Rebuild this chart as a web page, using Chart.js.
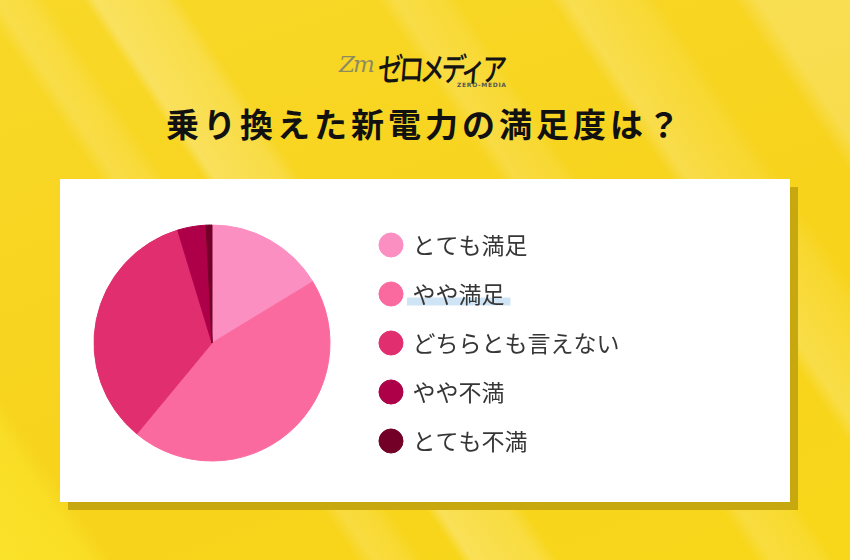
<!DOCTYPE html>
<html lang="ja">
<head>
<meta charset="utf-8">
<title>乗り換えた新電力の満足度は？</title>
<script src="https://cdn.jsdelivr.net/npm/chart.js@4.4.1/dist/chart.umd.min.js"></script>
<style>
  html, body { margin: 0; padding: 0; }
  body {
    width: 850px; height: 560px; overflow: hidden; position: relative;
    font-family: "Noto Sans CJK JP", "Noto Sans", sans-serif;
    background:
      linear-gradient(56deg,
        rgba(255,245,60,0.45) 0%, rgba(255,245,60,0.30) 7%, rgba(255,255,255,0) 9%,
        rgba(255,255,255,0) 29%,
        rgba(255,255,255,0.16) 30.5%, rgba(255,255,255,0.10) 33%, rgba(255,255,255,0) 34.5%,
        rgba(255,255,255,0) 37.5%,
        rgba(255,255,255,0.26) 38.5%, rgba(255,255,255,0.16) 44%, rgba(255,255,255,0) 45.5%,
        rgba(255,255,255,0) 61.5%,
        rgba(255,255,255,0.16) 63%, rgba(255,255,255,0.08) 67%, rgba(255,255,255,0) 68%,
        rgba(255,255,255,0) 75.5%,
        rgba(255,255,255,0.20) 77%, rgba(255,255,255,0.08) 83%, rgba(255,255,255,0) 84.5%,
        rgba(255,255,255,0) 90.5%,
        rgba(255,255,255,0.22) 92.5%, rgba(255,255,255,0.22) 100%),
      linear-gradient(160deg, #F8D828 0%, #F7D31C 55%, #F8D71A 100%);
  }
  .abs { position: absolute; white-space: nowrap; }
  #logoZ { left: 339px; top: 51px; font: italic 400 23px "DejaVu Serif", serif; color: #8d8a62; letter-spacing: -2px; }
  #logoJa { left: 380px; top: 44px; font-size: 27px; font-weight: 500; color: #141414; letter-spacing: -4px;
            transform-origin: left top; transform: scale(0.92, 1.2) skewX(-6deg); }
  #logoEn { left: 457px; top: 81px; font: 600 6px "DejaVu Sans", sans-serif; color: #555; letter-spacing: 0.7px; }
  #title { left: 7px; width: 836px; top: 107px; text-align: center; font-size: 33px; line-height: 33px;
           font-weight: 700; color: #111; letter-spacing: 4px; }
  #card { left: 60px; top: 179px; width: 730px; height: 323px; background: #fff;
          box-shadow: 8px 8px 0 #C7A90F; }
  #card canvas { display: block; }
</style>
</head>
<body>
<div class="abs" id="logoZ">Zm</div>
<div class="abs" id="logoJa">ゼロメディア</div>
<div class="abs" id="logoEn">ZERO-MEDIA</div>
<div class="abs" id="title">乗り換えた新電力の満足度は？</div>
<div class="abs" id="card"><canvas id="pie" width="730" height="323"></canvas></div>
<script>
// values (share of answers, %)
const labels = ['とても満足', 'やや満足', 'どちらとも言えない', 'やや不満', 'とても不満'];
const values = [16.3, 44.7, 34.3, 3.9, 0.8];
const colors = ['#FC8FC2', '#FB6A9E', '#E12E6F', '#AD0048', '#720027'];

const LEGEND_W = 300;
const LEGEND_PAD = 26;

// keep the legend box at a fixed width so the pie sits where it should
const legendWidth = {
    id: 'legendWidth',
    afterInit(chart) {
        const lg = chart.legend;
        const fit = lg.fit;
        lg.fit = function () {
            fit.call(this);
            this.width = LEGEND_W;
        };
    }
};

// light blue marker under the 2nd legend label (as in the source image)
const labelMark = {
    id: 'labelMark',
    beforeDraw(chart) {
        const hb = chart.legend.legendHitBoxes && chart.legend.legendHitBoxes[1];
        if (!hb) return;
        const ctx = chart.ctx;
        ctx.save();
        ctx.fillStyle = '#CFE5F5';
        ctx.fillRect(hb.left + 26, hb.top + 15, hb.width - 20, 8);
        ctx.restore();
    }
};

new Chart(document.getElementById('pie'), {
    type: 'pie',
    data: {
        labels: labels,
        datasets: [{
            data: values,
            backgroundColor: colors,
            borderColor: colors,
            borderWidth: 1,
            radius: 118
        }]
    },
    options: {
        responsive: false,
        animation: false,
        layout: { padding: { left: 9, right: 135, top: 5, bottom: 0 } },
        plugins: {
            tooltip: { enabled: false },
            legend: {
                position: 'right',
                align: 'center',
                labels: {
                    usePointStyle: true,
                    pointStyle: 'circle',
                    boxWidth: 20,
                    boxHeight: 17,
                    padding: LEGEND_PAD,
                    color: '#363636',
                    font: { family: "'Noto Sans CJK JP', sans-serif", size: 23, weight: '400' }
                }
            }
        }
    },
    plugins: [legendWidth, labelMark]
});
</script>
</body>
</html>
